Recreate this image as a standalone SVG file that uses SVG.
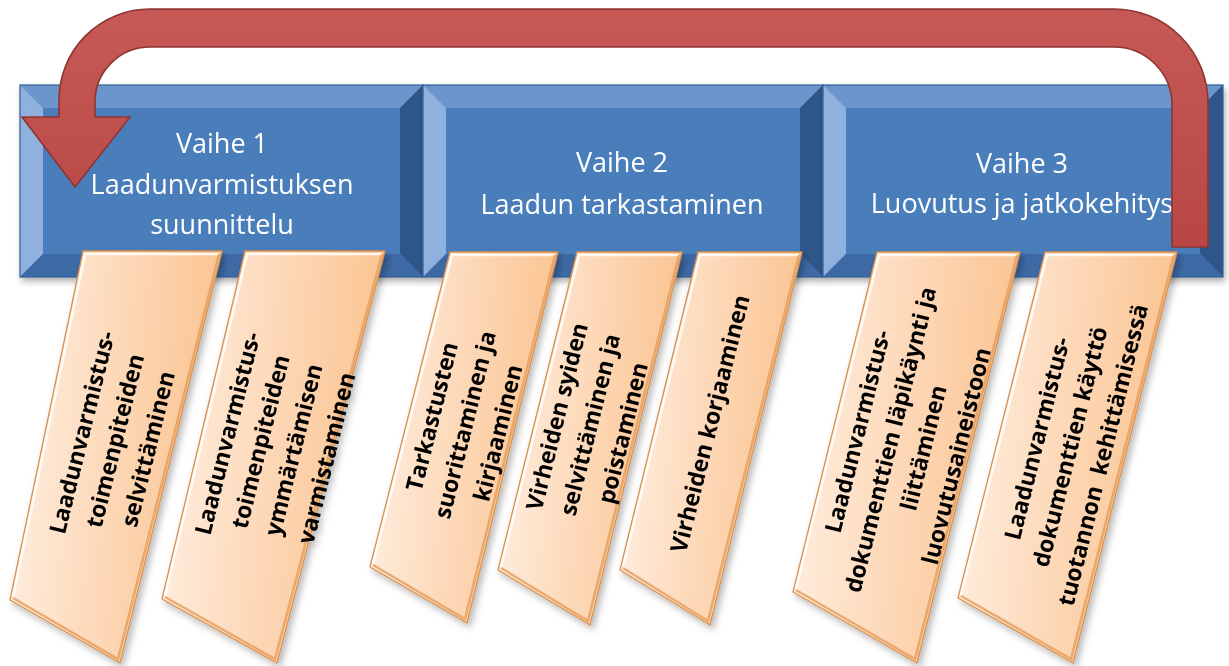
<svg xmlns="http://www.w3.org/2000/svg" width="1229" height="666" viewBox="0 0 1229 666">
  <defs>
    <style>
      .face { fill: #4a7ebb; }
      .bev-top { fill: #6c96cb; }
      .bev-left { fill: #90b1de; }
      .bev-right { fill: #2f5688; }
      .bev-bottom { fill: #3c69a5; }
      .frame { fill: none; stroke: #345f96; stroke-width: 1.2; }
      .phase-text { font-family: "Open Sans", "Liberation Sans", sans-serif; font-size: 27px; fill: #ffffff; text-anchor: middle; }
      .card { fill: url(#cardFill); stroke: #d8914f; stroke-width: 1.3; stroke-linejoin: round; }
      .card-hi { fill: none; stroke: #ffffff; stroke-opacity: 0.85; stroke-width: 2.5; }
      .card-lo { fill: none; stroke: #e59c5c; stroke-opacity: 0.8; stroke-width: 2.5; }
      .card-text { font-family: "Open Sans", "Liberation Sans", sans-serif; font-weight: bold; font-size: 23px; fill: #000000; text-anchor: middle; white-space: pre; }
      .loop { stroke: #8e3532; stroke-width: 1.6; stroke-linejoin: miter; }
    </style>
    <linearGradient id="cardFill" x1="0" y1="0" x2="1" y2="0.15">
      <stop offset="0" stop-color="#fff2e6"/>
      <stop offset="0.45" stop-color="#fddcbf"/>
      <stop offset="1" stop-color="#fbc491"/>
    </linearGradient>
    <linearGradient id="loopFill" x1="0" y1="0" x2="0" y2="1">
      <stop offset="0" stop-color="#c65956"/>
      <stop offset="1" stop-color="#b84744"/>
    </linearGradient>
    <filter id="shadow" x="-10%" y="-10%" width="120%" height="130%">
      <feDropShadow dx="2" dy="4" stdDeviation="3" flood-color="#000000" flood-opacity="0.3"/>
    </filter>
    <filter id="cardShadow" x="-20%" y="-10%" width="140%" height="125%">
      <feDropShadow dx="3" dy="4" stdDeviation="3.5" flood-color="#000000" flood-opacity="0.28"/>
    </filter>
  </defs>

  <rect x="0" y="0" width="1229" height="666" fill="#ffffff"/>

  <!-- Phase boxes: bevelled blue panels -->
  <g id="phase1" filter="url(#shadow)">
    <rect class="face" x="20" y="85" width="403" height="192"/>
    <polygon class="bev-top" points="20,85 423,85 400,108 43,108"/>
    <polygon class="bev-left" points="20,85 43,108 43,254 20,277"/>
    <polygon class="bev-right" points="423,85 423,277 400,254 400,108"/>
    <polygon class="bev-bottom" points="20,277 423,277 400,254 43,254"/>
    <rect class="frame" x="20" y="85" width="403" height="192"/>
    <text class="phase-text" x="222" y="153">Vaihe 1</text>
    <text class="phase-text" x="222" y="194">Laadunvarmistuksen</text>
    <text class="phase-text" x="222" y="234">suunnittelu</text>
  </g>
  <g id="phase2" filter="url(#shadow)">
    <rect class="face" x="423" y="85" width="400" height="192"/>
    <polygon class="bev-top" points="423,85 823,85 800,108 446,108"/>
    <polygon class="bev-left" points="423,85 446,108 446,254 423,277"/>
    <polygon class="bev-right" points="823,85 823,277 800,254 800,108"/>
    <polygon class="bev-bottom" points="423,277 823,277 800,254 446,254"/>
    <rect class="frame" x="423" y="85" width="400" height="192"/>
    <text class="phase-text" x="622" y="172">Vaihe 2</text>
    <text class="phase-text" x="622" y="214">Laadun tarkastaminen</text>
  </g>
  <g id="phase3" filter="url(#shadow)">
    <rect class="face" x="823" y="85" width="400" height="192"/>
    <polygon class="bev-top" points="823,85 1223,85 1200,108 846,108"/>
    <polygon class="bev-left" points="823,85 846,108 846,254 823,277"/>
    <polygon class="bev-right" points="1223,85 1223,277 1200,254 1200,108"/>
    <polygon class="bev-bottom" points="823,277 1223,277 1200,254 846,254"/>
    <rect class="frame" x="823" y="85" width="400" height="192"/>
    <text class="phase-text" x="1022" y="173">Vaihe 3</text>
    <text class="phase-text" x="1022" y="213">Luovutus ja jatkokehitys</text>
  </g>

  <!-- Task cards hanging below each phase -->
  <g id="task1a" filter="url(#cardShadow)">
    <polygon class="card" points="83,251 222,251 120,663 10,600"/>
    <polyline class="card-hi" points="13,597 85,254 219,254"/>
    <polyline class="card-lo" points="219,254 118,659 13,598"/>
    <g transform="translate(116,441) rotate(-76)">
      <text class="card-text" x="0" y="-27">Laadunvarmistus-</text>
      <text class="card-text" x="0" y="7">toimenpiteiden</text>
      <text class="card-text" x="0" y="41">selvittäminen</text>
    </g>
  </g>
  <g id="task1b" filter="url(#cardShadow)">
    <polygon class="card" points="245,251 385,251 277,663 162,599"/>
    <polyline class="card-hi" points="165,596 247,254 382,254"/>
    <polyline class="card-lo" points="382,254 275,659 165,597"/>
    <g transform="translate(278,446) rotate(-76)">
      <text class="card-text" x="0" y="-44">Laadunvarmistus-</text>
      <text class="card-text" x="0" y="-10">toimenpiteiden</text>
      <text class="card-text" x="0" y="24">ymmärtämisen</text>
      <text class="card-text" x="0" y="58">varmistaminen</text>
    </g>
  </g>
  <g id="task2a" filter="url(#cardShadow)">
    <polygon class="card" points="450,252 558,252 467,623 370,567"/>
    <polyline class="card-hi" points="373,564 452,255 555,255"/>
    <polyline class="card-lo" points="555,255 465,619 373,565"/>
    <g transform="translate(466,425) rotate(-76)">
      <text class="card-text" x="0" y="-27">Tarkastusten</text>
      <text class="card-text" x="0" y="7">suorittaminen ja</text>
      <text class="card-text" x="0" y="41">kirjaaminen</text>
    </g>
  </g>
  <g id="task2b" filter="url(#cardShadow)">
    <polygon class="card" points="577,252 682,252 590,625 498,570"/>
    <polyline class="card-hi" points="501,567 579,255 679,255"/>
    <polyline class="card-lo" points="679,255 588,621 501,568"/>
    <g transform="translate(591,425) rotate(-76)">
      <text class="card-text" x="0" y="-27">Virheiden syiden</text>
      <text class="card-text" x="0" y="7">selvittäminen ja</text>
      <text class="card-text" x="0" y="41">poistaminen</text>
    </g>
  </g>
  <g id="task2c" filter="url(#cardShadow)">
    <polygon class="card" points="698,252 802,252 710,625 620,570"/>
    <polyline class="card-hi" points="623,567 700,255 799,255"/>
    <polyline class="card-lo" points="799,255 708,621 623,568"/>
    <g transform="translate(711,424) rotate(-76)">
      <text class="card-text" x="0" y="7">Virheiden korjaaminen</text>
    </g>
  </g>
  <g id="task3a" filter="url(#cardShadow)">
    <polygon class="card" points="877,252 1020,252 917,663 793,592"/>
    <polyline class="card-hi" points="796,589 879,255 1017,255"/>
    <polyline class="card-lo" points="1017,255 915,659 796,590"/>
    <g transform="translate(908,444) rotate(-76)">
      <text class="card-text" x="0" y="-44">Laadunvarmistus-</text>
      <text class="card-text" x="0" y="-10">dokumenttien läpikäynti ja</text>
      <text class="card-text" x="0" y="24">liittäminen</text>
      <text class="card-text" x="0" y="58">luovutusaineistoon</text>
    </g>
  </g>
  <g id="task3b" filter="url(#cardShadow)">
    <polygon class="card" points="1045,252 1177,252 1073,663 958,598"/>
    <polyline class="card-hi" points="961,595 1047,255 1174,255"/>
    <polyline class="card-lo" points="1174,255 1071,659 961,596"/>
    <g transform="translate(1071,447) rotate(-76)">
      <text class="card-text" x="0" y="-27">Laadunvarmistus-</text>
      <text class="card-text" x="0" y="7">dokumenttien käyttö</text>
      <text class="card-text" x="0" y="41">tuotannon  kehittämisessä</text>
    </g>
  </g>

  <!-- Connectors: feedback loop from phase 3 back to phase 1 -->
  <g id="connectors">
    <path class="loop" fill="url(#loopFill)" d="M 1208,247 L 1208,103 A 94,94 0 0 0 1114,9 L 150,9 A 91,91 0 0 0 59,100 L 59,117 L 22,117 L 75,187 L 130,117 L 95,117 L 95,102 A 55,55 0 0 1 150,47 L 1114,47 A 58,58 0 0 1 1172,105 L 1172,247 Z"/>
  </g>
</svg>
